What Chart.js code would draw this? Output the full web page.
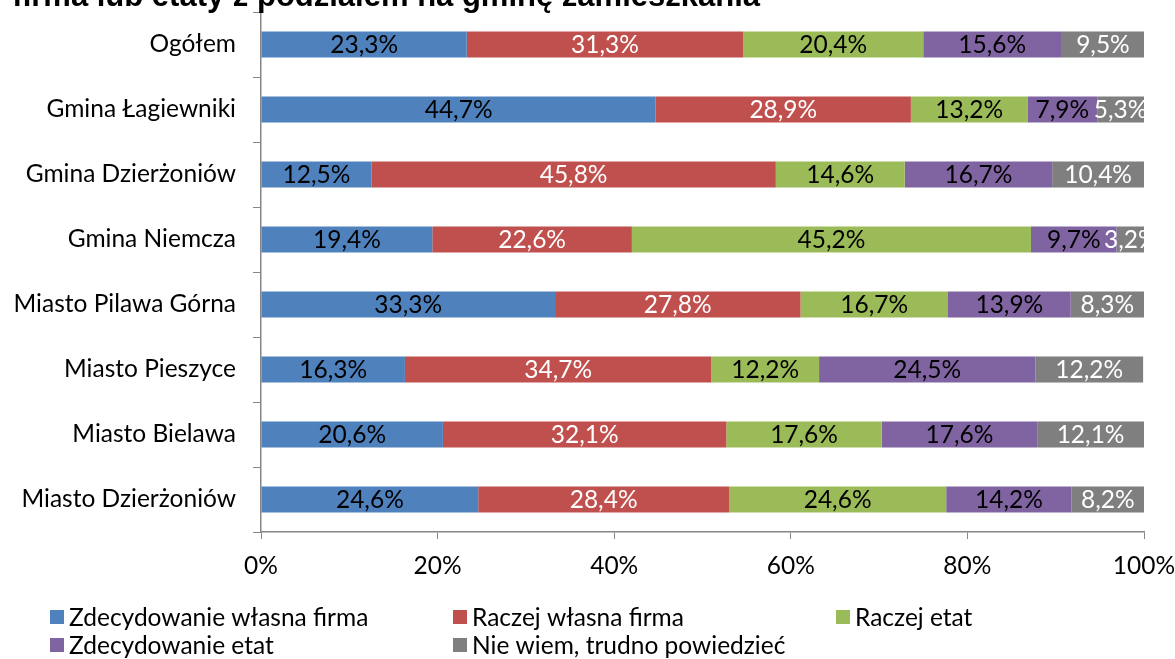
<!DOCTYPE html>
<html>
<head>
<meta charset="utf-8">
<script src="https://cdn.jsdelivr.net/npm/chart.js@4/dist/chart.umd.min.js"></script>
<style>
  html, body { margin: 0; padding: 0; background: #fff; }
  #wrap { width: 1175px; height: 659px; position: relative; }
</style>
</head>
<body>
<div id="wrap"><canvas id="wykres"></canvas></div>
<script>
// Dane wykresu
const tytul = "firma lub etaty z podziałem na gminę zamieszkania";
const kategorie = ["Ogółem", "Gmina Łagiewniki", "Gmina Dzierżoniów", "Gmina Niemcza",
    "Miasto Pilawa Górna", "Miasto Pieszyce", "Miasto Bielawa", "Miasto Dzierżoniów"];
const serie = ["Zdecydowanie własna firma", "Raczej własna firma", "Raczej etat",
    "Zdecydowanie etat", "Nie wiem, trudno powiedzieć"];
const zdecydowanieFirma = [23.3, 44.7, 12.5, 19.4, 33.3, 16.3, 20.6, 24.6];
const raczejFirma       = [31.3, 28.9, 45.8, 22.6, 27.8, 34.7, 32.1, 28.4];
const raczejEtat        = [20.4, 13.2, 14.6, 45.2, 16.7, 12.2, 17.6, 24.6];
const zdecydowanieEtat  = [15.6, 7.9, 16.7, 9.7, 13.9, 24.5, 17.6, 14.2];
const nieWiem           = [9.5, 5.3, 10.4, 3.2, 8.3, 12.2, 12.1, 8.2];
const osX = [0, 20, 40, 60, 80, 100];

// Kolory (Excel 2007) i kolory etykiet
const kolory = ["#4F81BD", "#C0504D", "#9BBB59", "#8064A2", "#7F7F7F"];
const koloryEtykiet = ["#000", "#fff", "#000", "#000", "#fff"];
const FONT = "Lato, 'Open Sans', sans-serif";
const ROZMIAR = 24.5;

const wartosci = [zdecydowanieFirma, raczejFirma, raczejEtat, zdecydowanieEtat, nieWiem];

// Etykiety wartości w środku segmentów (przycięte do obszaru wykresu)
const etykietyPlugin = {
    id: 'etykiety',
    afterDatasetsDraw(chart) {
        const ctx = chart.ctx;
        const a = chart.chartArea;
        ctx.save();
        ctx.beginPath();
        ctx.rect(a.left, a.top, a.right - a.left, a.bottom - a.top);
        ctx.clip();
        ctx.font = ROZMIAR + "px " + FONT;
        ctx.textAlign = "center";
        ctx.textBaseline = "middle";
        chart.data.datasets.forEach((ds, i) => {
            chart.getDatasetMeta(i).data.forEach((bar, j) => {
                const v = ds.data[j];
                ctx.fillStyle = koloryEtykiet[i];
                ctx.fillText(v.toFixed(1).replace(".", ",") + "%", (bar.x + bar.base) / 2, bar.y + 1);
            });
        });
        ctx.restore();
    }
};

// Tytuł (ucięty u góry) i legenda w dwóch rzędach
const legendaPozycje = [[50, 617], [453, 617], [836, 617], [50, 645], [453, 645]];
const dodatkiPlugin = {
    id: 'dodatki',
    afterDraw(chart) {
        const ctx = chart.ctx;
        ctx.save();
        ctx.font = "bold 31px 'Liberation Sans', Arial, sans-serif";
        ctx.fillStyle = "#000";
        ctx.textAlign = "right";
        ctx.textBaseline = "alphabetic";
        ctx.fillText(tytul, 760, 6);

        ctx.font = ROZMIAR + "px " + FONT;
        ctx.textAlign = "left";
        ctx.textBaseline = "middle";
        chart.data.datasets.forEach((ds, i) => {
            const [x, y] = legendaPozycje[i];
            ctx.fillStyle = ds.backgroundColor;
            ctx.fillRect(x, y - 7, 14, 14);
            ctx.fillStyle = "#000";
            ctx.fillText(ds.label, x + 19, y + 1);
        });
        ctx.restore();
    }
};

const ctx = document.getElementById("wykres").getContext("2d");
const chart = new Chart(ctx, {
    type: 'bar',
    data: {
        labels: kategorie,
        datasets: serie.map((nazwa, i) => ({
            label: nazwa,
            data: wartosci[i],
            backgroundColor: kolory[i],
            borderWidth: 0,
            barPercentage: 0.4,
            categoryPercentage: 1
        }))
    },
    options: {
        indexAxis: 'y',
        responsive: true,
        maintainAspectRatio: false,
        animation: false,
        layout: { padding: { top: 12, right: 31, bottom: 67, left: 0 } },
        plugins: {
            legend: { display: false },
            tooltip: { enabled: false }
        },
        scales: {
            x: {
                stacked: true,
                min: 0,
                max: 100,
                afterBuildTicks(scale) { scale.ticks = osX.map(v => ({ value: v })); },
                afterFit(scale) {
                    scale.height = 60;
                    scale.paddingLeft = 0;
                    scale.paddingRight = 0;
                },
                grid: { drawOnChartArea: false, drawTicks: true, tickLength: 7, color: "#868686" },
                border: { color: "#868686", width: 1.5 },
                ticks: {
                    color: "#000",
                    padding: 12,
                    font: { family: FONT, size: ROZMIAR },
                    callback: v => v + "%"
                }
            },
            y: {
                stacked: true,
                afterFit(scale) {
                    scale.width = 261;
                    scale.paddingTop = 0;
                    scale.paddingBottom = 0;
                },
                grid: { drawOnChartArea: false, drawTicks: true, tickLength: 8, color: "#868686", offset: true },
                border: { color: "#868686", width: 1.5 },
                ticks: {
                    color: "#000",
                    padding: 17,
                    font: { family: FONT, size: ROZMIAR }
                }
            }
        }
    },
    plugins: [etykietyPlugin, dodatkiPlugin]
});
</script>
</body>
</html>
